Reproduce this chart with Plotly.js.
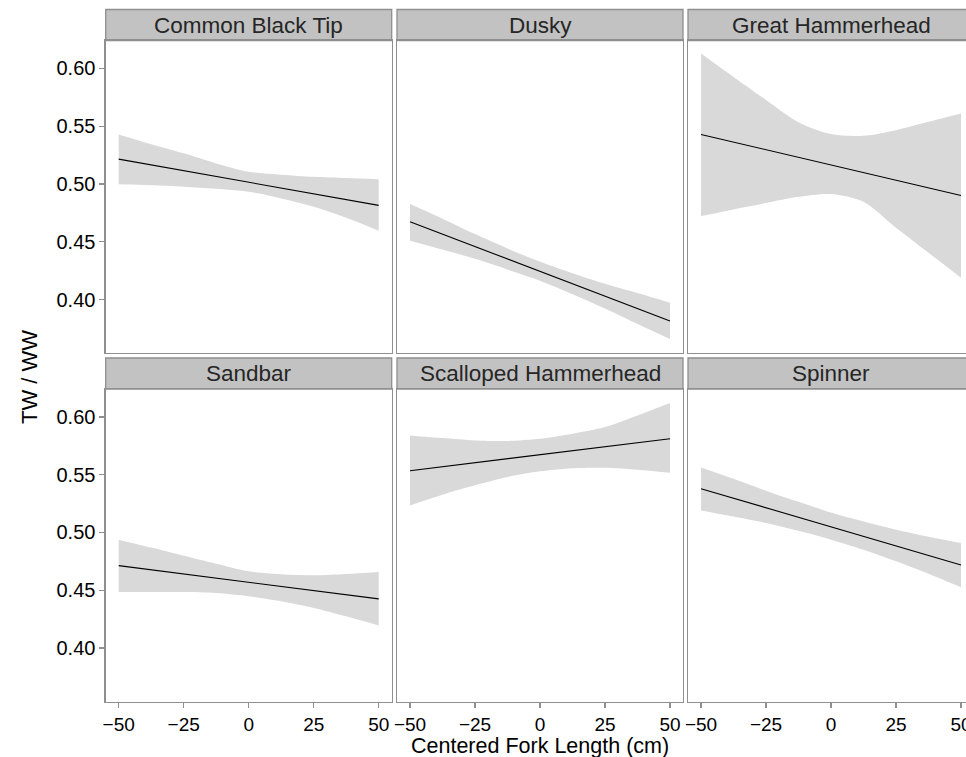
<!DOCTYPE html>
<html><head><meta charset="utf-8">
<script src="https://cdn.plot.ly/plotly-3.0.1.min.js"></script>
<style>html,body{margin:0;padding:0;overflow:hidden;background:#fff}#chart{width:980px;height:757px}</style>
</head><body><div id="chart"></div>
<script>
// ---- data ----
const species = ['Common Black Tip','Dusky','Great Hammerhead','Sandbar','Scalloped Hammerhead','Spinner'];
const forkLength = [-50, -37.5, -25, -12.5, 0, 12.5, 25, 37.5, 50];
const xTickVals = [-50, -25, 0, 25, 50];
const yTickVals = [0.40, 0.45, 0.50, 0.55, 0.60];

const fitCommonBlackTip   = [0.5215, 0.5165, 0.5115, 0.5065, 0.5015, 0.4965, 0.4915, 0.4865, 0.4815];
const lowerCommonBlackTip = [0.4997, 0.4988, 0.4976, 0.4959, 0.4933, 0.4875, 0.4803, 0.4708, 0.4595];
const upperCommonBlackTip = [0.5429, 0.5345, 0.5265, 0.5178, 0.5106, 0.5080, 0.5062, 0.5051, 0.5040];

const fitDusky   = [0.4673, 0.4566, 0.4458, 0.4351, 0.4244, 0.4137, 0.4029, 0.3922, 0.3814];
const lowerDusky = [0.4509, 0.4432, 0.4352, 0.4260, 0.4163, 0.4046, 0.3922, 0.3788, 0.3658];
const upperDusky = [0.4826, 0.4700, 0.4566, 0.4442, 0.4327, 0.4228, 0.4136, 0.4056, 0.3973];

const fitGreatHammerhead   = [0.5429, 0.5363, 0.5297, 0.5231, 0.5165, 0.5099, 0.5033, 0.4967, 0.4901];
const lowerGreatHammerhead = [0.4722, 0.4780, 0.4835, 0.4889, 0.4913, 0.4846, 0.4621, 0.4405, 0.4189];
const upperGreatHammerhead = [0.6130, 0.5927, 0.5728, 0.5535, 0.5432, 0.5417, 0.5466, 0.5538, 0.5610];

const fitSandbar   = [0.4713, 0.4677, 0.4641, 0.4605, 0.4569, 0.4533, 0.4497, 0.4461, 0.4425];
const lowerSandbar = [0.4485, 0.4485, 0.4485, 0.4476, 0.4448, 0.4404, 0.4347, 0.4274, 0.4194];
const upperSandbar = [0.4938, 0.4869, 0.4799, 0.4730, 0.4664, 0.4638, 0.4629, 0.4641, 0.4658];

const fitScallopedHammerhead   = [0.5535, 0.5570, 0.5604, 0.5639, 0.5673, 0.5708, 0.5742, 0.5777, 0.5811];
const lowerScallopedHammerhead = [0.5234, 0.5327, 0.5408, 0.5480, 0.5529, 0.5556, 0.5560, 0.5543, 0.5517];
const upperScallopedHammerhead = [0.5840, 0.5817, 0.5797, 0.5792, 0.5811, 0.5855, 0.5913, 0.6013, 0.6120];

const fitSpinner   = [0.5379, 0.5297, 0.5214, 0.5132, 0.5049, 0.4967, 0.4884, 0.4802, 0.4719];
const lowerSpinner = [0.5191, 0.5138, 0.5082, 0.5014, 0.4938, 0.4851, 0.4750, 0.4642, 0.4525];
const upperSpinner = [0.5563, 0.5465, 0.5362, 0.5265, 0.5172, 0.5094, 0.5024, 0.4964, 0.4909];

const fits   = [fitCommonBlackTip, fitDusky, fitGreatHammerhead, fitSandbar, fitScallopedHammerhead, fitSpinner];
const lowers = [lowerCommonBlackTip, lowerDusky, lowerGreatHammerhead, lowerSandbar, lowerScallopedHammerhead, lowerSpinner];
const uppers = [upperCommonBlackTip, upperDusky, upperGreatHammerhead, upperSandbar, upperScallopedHammerhead, upperSpinner];

// ---- layout geometry (pixels) ----
const W = 980, H = 757;
const colLeft = [105.7, 397, 688];
const panelW = 286;
const rowTop = [40.5, 389];
const panelH = 312.5;
const stripH = 31;

const FONT = 'Liberation Sans, Arial, Helvetica, sans-serif';
const borderColor = '#8f8f8f';

const traces = [];
const layout = {
  width: W, height: H, autosize: false,
  margin: {l: 0, r: 0, t: 0, b: 0, pad: 0},
  paper_bgcolor: '#ffffff', plot_bgcolor: '#ffffff',
  showlegend: false,
  font: {family: FONT, color: '#000000'},
  shapes: [], annotations: []
};

species.forEach((name, i) => {
  const r = Math.floor(i / 3), c = i % 3;
  const ax = i === 0 ? '' : String(i + 1);
  const xa = 'x' + ax, ya = 'y' + ax;
  const x0 = colLeft[c], x1 = colLeft[c] + panelW;
  const yTop = rowTop[r], yBot = rowTop[r] + panelH;
  const bottomRow = r === 1, leftCol = c === 0;

  layout['xaxis' + ax] = {
    domain: [x0 / W, x1 / W], anchor: ya, range: [-55, 55],
    showgrid: false, zeroline: false, showline: true, mirror: true,
    linecolor: borderColor, linewidth: 1.3,
    ticks: bottomRow ? 'outside' : '', ticklen: 5, tickwidth: 1.2, tickcolor: borderColor,
    tickmode: 'array', tickvals: xTickVals,
    showticklabels: bottomRow, tickfont: {family: FONT, size: 19, color: '#000'},
    fixedrange: true
  };
  layout['yaxis' + ax] = {
    domain: [1 - yBot / H, 1 - yTop / H], anchor: xa, range: [0.3537, 0.6242],
    showgrid: false, zeroline: false, showline: true, mirror: true,
    linecolor: borderColor, linewidth: 1.3,
    ticks: leftCol ? 'outside' : '', ticklen: 5, tickwidth: 1.2, tickcolor: borderColor,
    tickmode: 'array', tickvals: yTickVals, tickformat: '.2f',
    showticklabels: leftCol, tickfont: {family: FONT, size: 20, color: '#000'},
    fixedrange: true
  };

  traces.push({
    x: forkLength, y: lowers[i], xaxis: xa, yaxis: ya, type: 'scatter', mode: 'lines',
    line: {width: 0, shape: 'spline', smoothing: 0.8}, hoverinfo: 'skip'
  });
  traces.push({
    x: forkLength, y: uppers[i], xaxis: xa, yaxis: ya, type: 'scatter', mode: 'lines',
    line: {width: 0, shape: 'spline', smoothing: 0.8}, fill: 'tonexty', fillcolor: '#d9d9d9', hoverinfo: 'skip'
  });
  traces.push({
    x: forkLength, y: fits[i], xaxis: xa, yaxis: ya, type: 'scatter', mode: 'lines',
    line: {width: 1.1, color: '#000000'}, name: name
  });

  // strip
  const sTop = yTop - stripH;
  layout.shapes.push({
    type: 'rect', xref: 'paper', yref: 'paper',
    x0: x0 / W, x1: x1 / W, y0: 1 - yTop / H, y1: 1 - sTop / H,
    fillcolor: '#c2c2c2', line: {color: borderColor, width: 1.3}, layer: 'below'
  });
  layout.annotations.push({
    text: name, xref: 'paper', yref: 'paper',
    x: (x0 + x1) / 2 / W, y: 1 - (sTop + stripH / 2) / H,
    xanchor: 'center', yanchor: 'middle', showarrow: false,
    font: {family: FONT, size: 22.5, color: '#262626'}
  });
});

layout.annotations.push({
  text: 'Centered Fork Length (cm)', xref: 'paper', yref: 'paper',
  x: 540 / W, y: 1 - 746 / H, xanchor: 'center', yanchor: 'middle', showarrow: false,
  font: {family: FONT, size: 21.5, color: '#000'}
});
layout.annotations.push({
  text: 'TW / WW', xref: 'paper', yref: 'paper', textangle: -90,
  x: 29 / W, y: 1 - 377 / H, xanchor: 'center', yanchor: 'middle', showarrow: false,
  font: {family: FONT, size: 22, color: '#000'}
});

Plotly.newPlot('chart', traces, layout, {staticPlot: true, displayModeBar: false});
</script>
</body></html>
